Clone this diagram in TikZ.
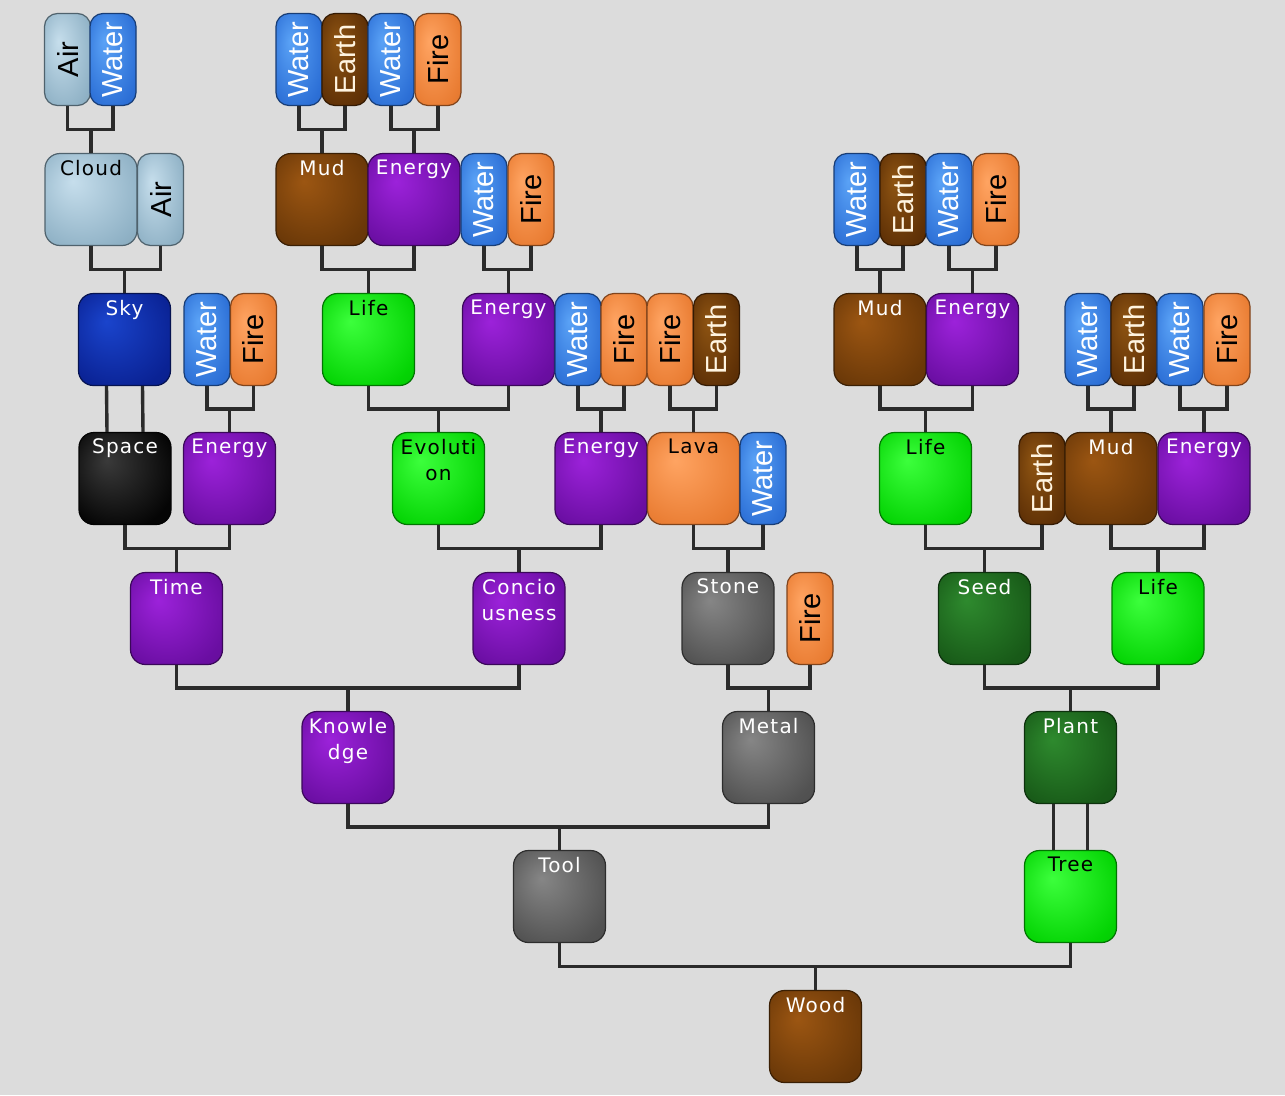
\documentclass[tikz,border=0pt]{standalone}
\usepackage{fontspec}
\setmainfont{DejaVu Sans}
\newfontfamily\elemfont{Liberation Sans}
\newfontfamily\boxfont[LetterSpace=6]{DejaVu Sans}
\usetikzlibrary{calc}
\definecolor{bgc}{HTML}{DCDCDC}
\definecolor{linec}{HTML}{2B2B2B}
\definecolor{airA}{HTML}{C6DEEC}\definecolor{airB}{HTML}{90B2C6}
\definecolor{watA}{HTML}{5AA2F6}\definecolor{watB}{HTML}{2C6FD6}
\definecolor{earA}{HTML}{8E5412}\definecolor{earB}{HTML}{5E3006}
\definecolor{firA}{HTML}{FFA462}\definecolor{firB}{HTML}{E97C32}
\definecolor{skyA}{HTML}{1A44CC}\definecolor{skyB}{HTML}{0A2294}
\definecolor{spaA}{HTML}{3A3A3A}\definecolor{spaB}{HTML}{050505}
\definecolor{purA}{HTML}{9C22DA}\definecolor{purB}{HTML}{6A0EA2}
\definecolor{grnA}{HTML}{3CFF3C}\definecolor{grnB}{HTML}{04D404}
\definecolor{bruA}{HTML}{9C5612}\definecolor{bruB}{HTML}{6A3808}
\definecolor{gryA}{HTML}{868686}\definecolor{gryB}{HTML}{525252}
\definecolor{dgrA}{HTML}{2E8A2E}\definecolor{dgrB}{HTML}{185A18}
\definecolor{creamc}{HTML}{FFF4E0}
\colorlet{shin}{white}\colorlet{shout}{gray}
\pgfdeclareradialshading[shin,shout]{glow}{\pgfpoint{-10bp}{10bp}}{color(0bp)=(shin); color(32bp)=(shout); color(50bp)=(shout!85!black)}
\tikzset{
  fillc/.style 2 args={/utils/exec={\colorlet{shin}{#1}\colorlet{shout}{#2}}, shade, shading=glow, draw=#2!55!black, line width=1.2pt},
  cair/.style={fillc={airA}{airB}},
  cwat/.style={fillc={watA}{watB}},
  cear/.style={fillc={earA}{earB}},
  cfir/.style={fillc={firA}{firB}},
  csky/.style={fillc={skyA}{skyB}},
  cspa/.style={fillc={spaA}{spaB}},
  cpur/.style={fillc={purA}{purB}},
  cgrn/.style={fillc={grnA}{grnB}},
  cbru/.style={fillc={bruA}{bruB}},
  cgry/.style={fillc={gryA}{gryB}},
  cdgr/.style={fillc={dgrA}{dgrB}},
  bigbox/.style={rectangle, rounded corners=15pt, minimum width=92pt, minimum height=92pt, inner sep=0pt},
  elembox/.style={rectangle, rounded corners=13pt, minimum width=46pt, minimum height=92pt, inner sep=0pt},
  btext/.style={anchor=north, inner sep=0pt, align=center, font=\boxfont\fontsize{20}{26}\selectfont},
  etext/.style={inner sep=0pt, rotate=90, font=\elemfont\fontsize{29}{30}\selectfont},
  conn/.style={draw=linec, line width=3.4pt},
}
\newcommand\bigb[6]{%
  \node[bigbox,#4] (#1) at (#2,#3) {};
  \node[btext,text=#5] (#1-t) at ([yshift=-7pt]#1.north) {#6};}
\newcommand\elm[6]{%
  \node[elembox,#4] (#1) at (#2,#3) {};
  \node[etext,text=#5] (#1-t) at (#1.center) {#6};}
\newcommand\join[3]{%
  \coordinate (#1#2m) at ($(#1.south)!.5!(#3.north)$);
  \draw[conn] (#1.south) |- (#1#2m -| #2.south) -- (#2.south);
  \draw[conn] (#3.north) -- (#3.north |- #1#2m);}
\begin{document}
\begin{tikzpicture}[x=1pt,y=-1pt]
\fill[bgc] (0,0) rectangle (1285,1095);
\useasboundingbox (0,0) rectangle (1285,1095);
% Row A
\elm{aAir}{67.5}{59.5}{cair}{black}{Air}
\elm{aWat}{113}{59.5}{cwat}{white}{Water}
\elm{aW1}{299}{59.5}{cwat}{white}{Water}
\elm{aE1}{345}{59.5}{cear}{creamc}{Earth}
\elm{aW2}{391}{59.5}{cwat}{white}{Water}
\elm{aF2}{438}{59.5}{cfir}{black}{Fire}
% Row B
\bigb{cloud}{91}{199.5}{cair}{black}{Cloud}
\elm{bAir}{160.5}{199.5}{cair}{black}{Air}
\bigb{mudA}{322}{199.5}{cbru}{white}{Mud}
\bigb{enA}{414}{199.5}{cpur}{white}{Energy}
\elm{bW}{484}{199.5}{cwat}{white}{Water}
\elm{bF}{531}{199.5}{cfir}{black}{Fire}
\elm{bW2}{857}{199.5}{cwat}{white}{Water}
\elm{bE2}{903}{199.5}{cear}{creamc}{Earth}
\elm{bW3}{949}{199.5}{cwat}{white}{Water}
\elm{bF3}{996}{199.5}{cfir}{black}{Fire}
% Row C
\bigb{sky}{124.5}{339.5}{csky}{white}{Sky}
\elm{cW1}{207}{339.5}{cwat}{white}{Water}
\elm{cF1}{253.5}{339.5}{cfir}{black}{Fire}
\bigb{lifeA}{368.5}{339.5}{cgrn}{black}{Life}
\bigb{enB}{508.5}{339.5}{cpur}{white}{Energy}
\elm{cW2}{578}{339.5}{cwat}{white}{Water}
\elm{cF2}{624}{339.5}{cfir}{black}{Fire}
\elm{cF3}{670}{339.5}{cfir}{black}{Fire}
\elm{cE3}{716.5}{339.5}{cear}{creamc}{Earth}
\bigb{mudB}{880}{339.5}{cbru}{white}{Mud}
\bigb{enC}{972.5}{339.5}{cpur}{white}{Energy}
\elm{cW4}{1088}{339.5}{cwat}{white}{Water}
\elm{cE4}{1134}{339.5}{cear}{creamc}{Earth}
\elm{cW5}{1180}{339.5}{cwat}{white}{Water}
\elm{cF5}{1227}{339.5}{cfir}{black}{Fire}
% Row D
\bigb{space}{125}{478.5}{cspa}{white}{Space}
\bigb{enD}{229.5}{478.5}{cpur}{white}{Energy}
\bigb{evo}{438.5}{478.5}{cgrn}{black}{Evoluti\\on}
\bigb{enE}{601}{478.5}{cpur}{white}{Energy}
\bigb{lava}{693.5}{478.5}{cfir}{black}{Lava}
\elm{dW}{763}{478.5}{cwat}{white}{Water}
\bigb{lifeB}{925.5}{478.5}{cgrn}{black}{Life}
\elm{dE}{1042}{478.5}{cear}{creamc}{Earth}
\bigb{mudC}{1111}{478.5}{cbru}{white}{Mud}
\bigb{enF}{1204}{478.5}{cpur}{white}{Energy}
% Row E
\bigb{time}{176.5}{618.5}{cpur}{white}{Time}
\bigb{concio}{519}{618.5}{cpur}{white}{Concio\\usness}
\bigb{stone}{728}{618.5}{cgry}{white}{Stone}
\elm{eF}{810}{618.5}{cfir}{black}{Fire}
\bigb{seed}{984.5}{618.5}{cdgr}{white}{Seed}
\bigb{lifeC}{1158}{618.5}{cgrn}{black}{Life}
% Row F
\bigb{know}{348}{757.5}{cpur}{white}{Knowle\\dge}
\bigb{metal}{768.5}{757.5}{cgry}{white}{Metal}
\bigb{plant}{1070.5}{757.5}{cdgr}{white}{Plant}
% Row G
\bigb{tool}{559.5}{896.5}{cgry}{white}{Tool}
\bigb{tree}{1070.5}{896.5}{cgrn}{black}{Tree}
% Row H
\bigb{wood}{815.5}{1036.5}{cbru}{white}{Wood}
% connectors
\join{aAir}{aWat}{cloud}
\join{aW1}{aE1}{mudA}
\join{aW2}{aF2}{enA}
\join{cloud}{bAir}{sky}
\join{mudA}{enA}{lifeA}
\join{bW}{bF}{enB}
\join{bW2}{bE2}{mudB}
\join{bW3}{bF3}{enC}
\draw[conn] ([xshift=-18pt]sky.south) -- ([xshift=-18pt]space.north);
\draw[conn] ([xshift=18pt]sky.south) -- ([xshift=18pt]space.north);
\join{cW1}{cF1}{enD}
\join{lifeA}{enB}{evo}
\join{cW2}{cF2}{enE}
\join{cF3}{cE3}{lava}
\join{mudB}{enC}{lifeB}
\join{cW4}{cE4}{mudC}
\join{cW5}{cF5}{enF}
\join{space}{enD}{time}
\join{evo}{enE}{concio}
\join{lava}{dW}{stone}
\join{lifeB}{dE}{seed}
\join{mudC}{enF}{lifeC}
\join{time}{concio}{know}
\join{stone}{eF}{metal}
\join{seed}{lifeC}{plant}
\join{know}{metal}{tool}
\draw[conn] ([xshift=-17pt]plant.south) -- ([xshift=-17pt]tree.north);
\draw[conn] ([xshift=17pt]plant.south) -- ([xshift=17pt]tree.north);
\join{tool}{tree}{wood}
\end{tikzpicture}
\end{document}
